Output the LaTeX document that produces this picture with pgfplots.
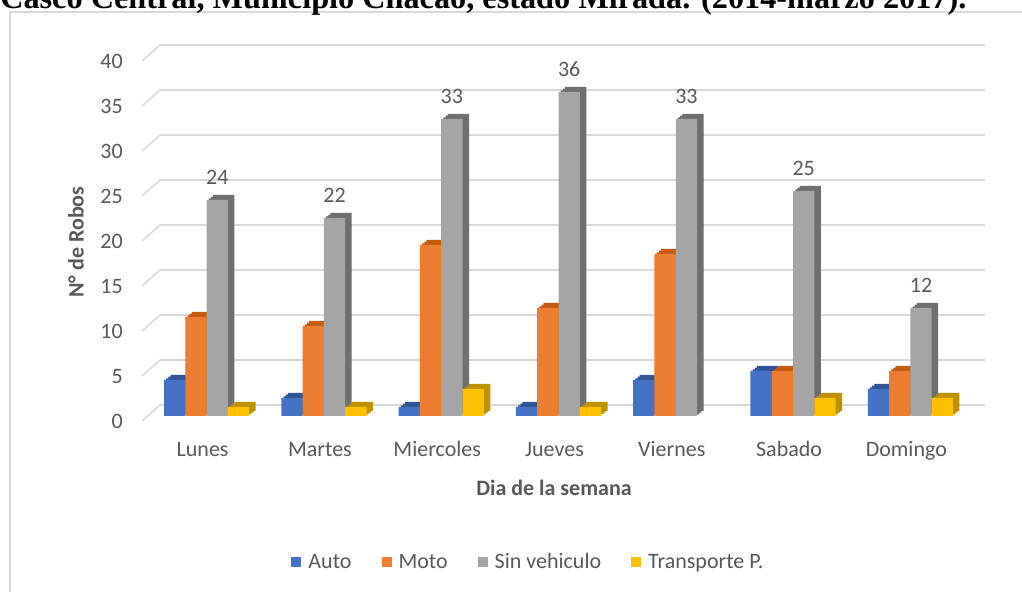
\documentclass[border=0pt]{standalone}
\usepackage{pgfplots}
\usepackage{pgfplotstable}
\pgfplotsset{compat=1.18}
\usepackage{fontspec}
\setmainfont{Carlito}
\newfontfamily\titlefont{Liberation Serif}
\newlength\pu
\setlength\pu{0.75pt}
\definecolor{gridc}{HTML}{D9D9D9}
\definecolor{txt}{HTML}{595959}
\definecolor{cAuto}{HTML}{4472C4}
\definecolor{cAutoD}{HTML}{2F5597}
\definecolor{cMoto}{HTML}{ED7D31}
\definecolor{cMotoD}{HTML}{C55A11}
\definecolor{cSin}{HTML}{A5A5A5}
\definecolor{cSinD}{HTML}{6F6F6F}
\definecolor{cTra}{HTML}{FFC000}
\definecolor{cTraD}{HTML}{BF9000}
\pgfplotstableread{
x auto moto sin tra
0 4 11 24 1
1 2 10 22 1
2 1 19 33 3
3 1 12 36 1
4 4 18 33 nan
5 5 5 25 2
6 3 5 12 2
}\data
% shaded depth of a bar series: several shifted copies
\newcommand\depth[3]{%
  \addplot[bar shift=#2, fill=#3, draw=none, xshift=2.2\pu, yshift=1.7\pu, forget plot] table[x=x,y=#1]{\data};
  \addplot[bar shift=#2, fill=#3, draw=none, xshift=4.4\pu, yshift=3.4\pu, forget plot] table[x=x,y=#1]{\data};
  \addplot[bar shift=#2, fill=#3, draw=none, xshift=6.5\pu, yshift=5\pu, forget plot] table[x=x,y=#1]{\data};
}
\begin{document}
\begin{tikzpicture}
\useasboundingbox (0,0) rectangle (1022\pu,592\pu);
\fill[white] (0,0) rectangle (1022\pu,592\pu);
\draw[gridc, line width=1.5\pu] (10\pu,-5\pu) -- (10\pu,580\pu) -- (1030\pu,580\pu);
\node[anchor=base west, inner sep=0pt] at (0pt,583\pu) {\resizebox{966\pu}{!}{\titlefont\bfseries Casco Central, Municipio Chacao, estado Mirada. (2014-marzo 2017).}};
% back wall: grid and tick labels
\begin{axis}[
  at={(160\pu,187\pu)}, anchor=south west,
  scale only axis, width=825\pu, height=360\pu,
  xmin=0, xmax=1, ymin=0, ymax=40,
  axis line style={draw=none},
  xtick=\empty, ytick={0,5,...,40},
  ymajorgrids, grid style={gridc, line width=1.5\pu},
  major tick length=0pt,
  /pgf/number format/assume math mode=true,
  yticklabel style={font=\fontsize{16.5pt}{18pt}\selectfont, text=txt, inner sep=0pt, anchor=east, xshift=-37\pu, yshift=-16.5\pu},
  clip=false,
]
\pgfplotsinvokeforeach{0,5,...,40}{\draw[gridc,line width=1.5\pu] (axis cs:0,#1) -- ++(-18\pu,-16\pu);}
\end{axis}
% bars
\begin{axis}[
  at={(148\pu,176\pu)}, anchor=south west,
  scale only axis, width=821\pu, height=360\pu,
  xmin=-0.5, xmax=6.5, ymin=0, ymax=40,
  axis line style={draw=none},
  ytick=\empty, xtick={0,...,6},
  xticklabels={Lunes,Martes,Miercoles,Jueves,Viernes,Sabado,Domingo},
  major tick length=0pt,
  xticklabel style={font=\fontsize{16.5pt}{18pt}\selectfont, text=txt, inner sep=0pt, anchor=base, yshift=-41\pu, xshift=-4\pu},
  /pgf/number format/assume math mode=true,
  ybar, bar width=0.1816,
  clip=false,
  xlabel={Dia de la semana},
  xlabel style={at={(axis description cs:0.4945,-0.2)}, anchor=center, font=\fontsize{16.5pt}{18pt}\selectfont\bfseries, text=txt},
  ylabel={N° de Robos},
  ylabel style={at={(axis description cs:-0.0877,0.4833)}, anchor=center, rotate=0, font=\fontsize{16.5pt}{18pt}\selectfont\bfseries, text=txt},
  legend style={at={(axis description cs:0.4622,-0.4056)}, anchor=center, draw=none, fill=none,
    font=\fontsize{16.5pt}{18pt}\selectfont, text=txt,
    nodes={inner sep=0pt},
    /tikz/every odd column/.append style={column sep=7\pu},
    /tikz/every even column/.append style={column sep=30\pu}},
  legend columns=4,
  legend cell align=left,
  legend image code/.code={\fill[#1] (0pt,-5\pu) rectangle (10\pu,5\pu);},
]
\depth{auto}{-0.2724}{cAutoD}
\addplot[bar shift=-0.2724, fill=cAuto, draw=none] table[x=x,y=auto]{\data};
\addlegendentry{Auto}
\depth{moto}{-0.0908}{cMotoD}
\addplot[bar shift=-0.0908, fill=cMoto, draw=none] table[x=x,y=moto]{\data};
\addlegendentry{Moto}
\depth{sin}{0.0908}{cSinD}
\addplot[bar shift=0.0908, fill=cSin, draw=none,
  nodes near coords,
  every node near coord/.append style={anchor=center, inner sep=0pt, yshift=23\pu, font=\fontsize{16.5pt}{18pt}\selectfont, text=txt}] table[x=x,y=sin]{\data};
\addlegendentry{Sin vehiculo}
\depth{tra}{0.2724}{cTraD}
\addplot[bar shift=0.2724, fill=cTra, draw=none] table[x=x,y=tra]{\data};
\addlegendentry{Transporte P.}
\end{axis}
\end{tikzpicture}
\end{document}
